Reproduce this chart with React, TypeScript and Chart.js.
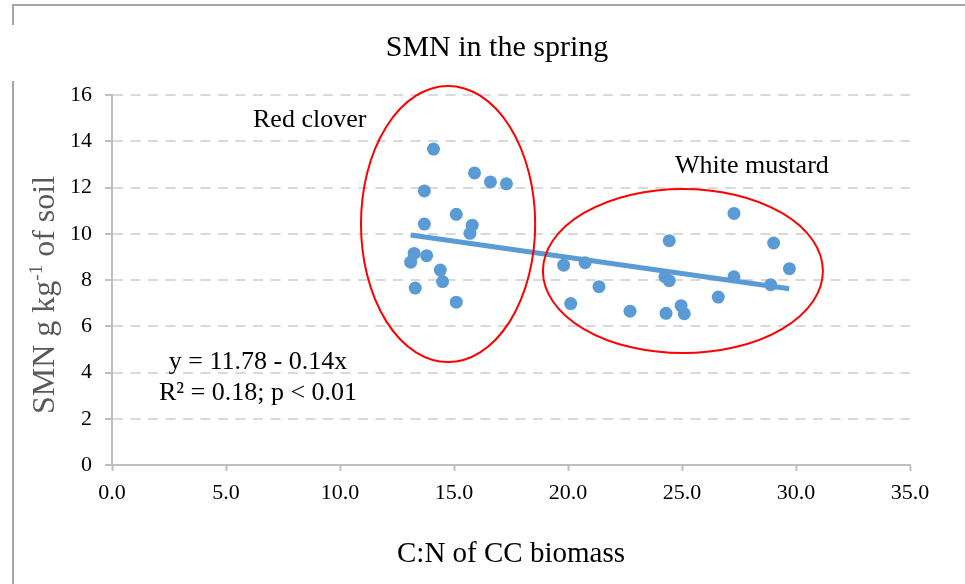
import React, { useEffect, useRef } from "react";
import { Chart, registerables } from "chart.js";

Chart.register(...registerables);

// ---- Data ----
const redCloverX = [14.1, 15.9, 16.6, 17.3, 13.7, 15.1, 13.7, 15.8, 15.7, 13.25, 13.8, 13.1, 14.4, 14.5, 13.3, 15.1];
const redCloverY = [13.66, 12.63, 12.24, 12.16, 11.85, 10.84, 10.42, 10.37, 10.02, 9.15, 9.05, 8.77, 8.43, 7.93, 7.65, 7.04];
const whiteMustardX = [27.28, 24.44, 29.02, 29.71, 19.81, 20.75, 24.25, 24.44, 27.28, 28.89, 21.36, 26.59, 20.12, 22.72, 24.3, 24.96, 25.1];
const whiteMustardY = [10.88, 9.7, 9.6, 8.49, 8.64, 8.75, 8.14, 7.97, 8.14, 7.8, 7.71, 7.26, 6.98, 6.65, 6.56, 6.89, 6.54];
const trendX = [13.1, 29.7];
const trendY = [9.95, 7.62];

const xMin = 0;
const xMax = 35;
const xStep = 5;
const yMin = 0;
const yMax = 16;
const yStep = 2;

const titleText = "SMN in the spring";
const xTitleText = "C:N of CC biomass";
const yTitleMain = "SMN g kg";
const yTitleSup = "-1";
const yTitleEnd = " of soil";
const groupLabels = ["Red clover", "White mustard"];
const equationLines = ["y = 11.78 - 0.14x", "R\u00B2 = 0.18; p < 0.01"];

// ellipse groups in data units: centre x, centre y, radius x, radius y
const ellipseCX = [14.74, 25.04];
const ellipseCY = [10.42, 8.39];
const ellipseRX = [3.82, 6.14];
const ellipseRY = [5.97, 3.55];

const SERIF = "'Liberation Serif', 'Times New Roman', serif";
const BLUE = "#5B9BD5";

const toPts = (xs: number[], ys: number[]) => xs.map((x, i) => ({ x, y: ys[i] }));

const annotatePlugin = {
  id: "annotate",
  afterDatasetsDraw(chart: any) {
    const { ctx } = chart;
    const xs = chart.scales.x;
    const ys = chart.scales.y;
    ctx.save();
    ctx.strokeStyle = "#FF0000";
    ctx.lineWidth = 2;
    for (let i = 0; i < ellipseCX.length; i++) {
      const cx = xs.getPixelForValue(ellipseCX[i]);
      const cy = ys.getPixelForValue(ellipseCY[i]);
      const rx = Math.abs(xs.getPixelForValue(ellipseCX[i] + ellipseRX[i]) - cx);
      const ry = Math.abs(ys.getPixelForValue(ellipseCY[i] + ellipseRY[i]) - cy);
      ctx.beginPath();
      ctx.ellipse(cx, cy, rx, ry, 0, 0, Math.PI * 2);
      ctx.stroke();
    }
    ctx.restore();
  },
  afterDraw(chart: any) {
    const { ctx } = chart;
    ctx.save();
    // frame
    ctx.strokeStyle = "#A6A6A6";
    ctx.lineWidth = 2;
    ctx.beginPath();
    ctx.moveTo(12, 5);
    ctx.lineTo(965, 5);
    ctx.moveTo(13, 4);
    ctx.lineTo(13, 25);
    ctx.moveTo(13, 81);
    ctx.lineTo(13, 584);
    ctx.stroke();

    ctx.fillStyle = "#000";
    ctx.textBaseline = "alphabetic";
    // title
    ctx.font = `30px ${SERIF}`;
    ctx.textAlign = "center";
    ctx.fillText(titleText, 497, 56);
    // x title
    ctx.font = `29px ${SERIF}`;
    ctx.fillText(xTitleText, 511, 562);
    // group labels
    ctx.font = `26px ${SERIF}`;
    ctx.textAlign = "left";
    ctx.fillText(groupLabels[0], 253, 127);
    ctx.fillText(groupLabels[1], 675, 173);
    // equation
    ctx.font = `26px ${SERIF}`;
    ctx.textAlign = "center";
    ctx.fillText(equationLines[0], 258, 369);
    ctx.fillText(equationLines[1], 258, 400);

    // y title, rotated, with superscript
    const mainFont = `32px ${SERIF}`;
    const supFont = `19px ${SERIF}`;
    ctx.font = mainFont;
    const w1 = ctx.measureText(yTitleMain).width;
    const w3 = ctx.measureText(yTitleEnd).width;
    ctx.font = supFont;
    const w2 = ctx.measureText(yTitleSup).width;
    const total = w1 + w2 + w3;
    ctx.translate(54, 295);
    ctx.rotate(-Math.PI / 2);
    ctx.fillStyle = "#595959";
    ctx.textAlign = "left";
    let pos = -total / 2;
    ctx.font = mainFont;
    ctx.fillText(yTitleMain, pos, 0);
    pos += w1;
    ctx.font = supFont;
    ctx.fillText(yTitleSup, pos, -12);
    pos += w2;
    ctx.font = mainFont;
    ctx.fillText(yTitleEnd, pos, 0);
    ctx.restore();
  },
};

export default function App() {
  const ref = useRef<HTMLCanvasElement | null>(null);
  useEffect(() => {
    document.body.style.margin = "0";
    const pointStyle = {
      backgroundColor: BLUE,
      borderColor: BLUE,
      pointRadius: 6.5,
      pointHoverRadius: 6.5,
      pointBorderWidth: 0,
      showLine: false,
    };
    const chart = new Chart(ref.current as HTMLCanvasElement, {
      type: "scatter",
      data: {
        datasets: [
          {
            label: "Trend",
            data: toPts(trendX, trendY),
            showLine: true,
            borderColor: BLUE,
            backgroundColor: BLUE,
            borderWidth: 5,
            pointRadius: 0,
            pointHoverRadius: 0,
          } as any,
          { label: groupLabels[0], data: toPts(redCloverX, redCloverY), ...pointStyle } as any,
          { label: groupLabels[1], data: toPts(whiteMustardX, whiteMustardY), ...pointStyle } as any,
        ],
      },
      options: {
        responsive: false,
        animation: false,
        devicePixelRatio: 1,
        layout: { padding: { left: 52, right: 55, top: 95, bottom: 69 } },
        plugins: {
          legend: { display: false },
          title: { display: false },
          tooltip: { enabled: false },
        },
        scales: {
          x: {
            type: "linear",
            min: xMin,
            max: xMax,
            ticks: {
              stepSize: xStep,
              callback: (v: any) => Number(v).toFixed(1),
              color: "#000",
              font: { family: SERIF, size: 22 },
              padding: 9,
              maxRotation: 0,
              autoSkip: false,
            },
            grid: {
              drawOnChartArea: false,
              drawTicks: true,
              tickLength: 6,
              tickColor: "#BFBFBF",
              tickWidth: 2,
            },
            border: { display: true, color: "#BFBFBF", width: 2 },
            afterFit: (s: any) => {
              s.height = 50;
            },
          },
          y: {
            type: "linear",
            min: yMin,
            max: yMax,
            ticks: {
              stepSize: yStep,
              color: "#000",
              font: { family: SERIF, size: 22 },
              padding: 13,
            },
            grid: {
              color: (c: any) => (c.tick && c.tick.value === 0 ? "rgba(0,0,0,0)" : "#D9D9D9"),
              lineWidth: 2,
              tickLength: 7,
              tickColor: "#BFBFBF",
              tickWidth: 2,
            },
            border: { display: true, color: "#BFBFBF", width: 2, dash: [10, 7.5] },
            afterFit: (s: any) => {
              s.width = 60;
            },
          },
        },
      } as any,
      plugins: [annotatePlugin],
    });
    return () => chart.destroy();
  }, []);
  return (
    <canvas
      ref={ref}
      width={965}
      height={584}
      style={{ display: "block", width: 965, height: 584 }}
    />
  );
}
